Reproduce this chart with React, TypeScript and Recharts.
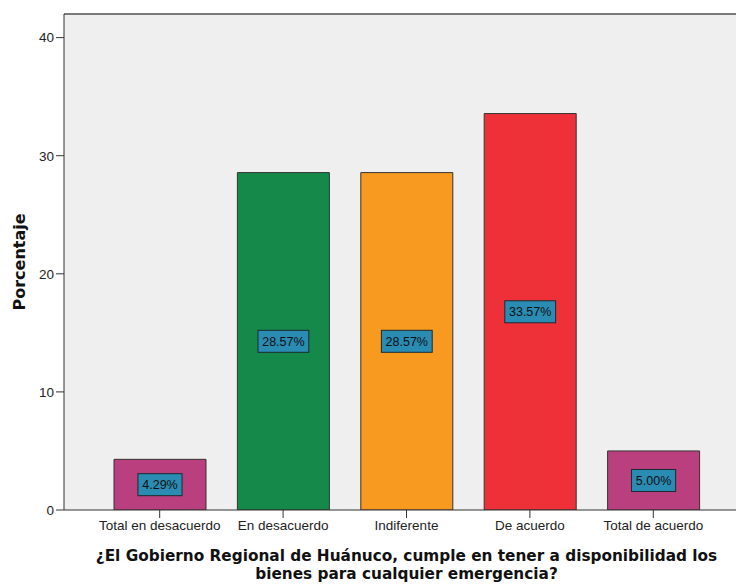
import { BarChart, Bar, XAxis, YAxis, CartesianGrid, LabelList, Cell, ReferenceLine, Label } from 'recharts';

const categories = ['Total en desacuerdo', 'En desacuerdo', 'Indiferente', 'De acuerdo', 'Total de acuerdo'];
const percentages = [4.29, 28.57, 28.57, 33.57, 5.0];
const barColors = ['#b93f7e', '#15894a', '#f89a1f', '#ee3139', '#b93f7e'];
const yTicks = [0, 10, 20, 30, 40];

const data = categories.map((name, i) => ({ name, value: percentages[i] }));

const FONT = 'Arial, "Liberation Sans", sans-serif';
const BOLD_FONT = '"DejaVu Sans", Verdana, sans-serif';

function boxWidth(s: string) {
  let w = 0;
  for (const c of s) {
    if (c === '.') w += 3.3;
    else if (c === '%') w += 10.7;
    else w += 6.7;
  }
  return w + 10;
}

function ValueBox(props: any) {
  const { x, y, width, height, value } = props;
  const text = `${Number(value).toFixed(2)}%`;
  const cx = x + width / 2;
  const cy = y + height / 2;
  const w = boxWidth(text);
  const h = 22;
  return (
    <g>
      <rect x={cx - w / 2} y={cy - h / 2} width={w} height={h} fill="#2a8bb3" stroke="#1c2a30" strokeWidth={1} />
      <text x={cx} y={cy + 4.5} textAnchor="middle" fontSize={12.5} fontFamily={FONT} fill="#111">
        {text}
      </text>
    </g>
  );
}

export default function App() {
  return (
    <div style={{ position: 'absolute', left: 0, top: 0, width: 736, height: 586, overflow: 'hidden', background: '#fff' }}>
      <BarChart
        width={760}
        height={586}
        data={data}
        margin={{ top: 14, right: 11, left: 0, bottom: 0 }}
      >
        <CartesianGrid horizontal={false} vertical={false} fill="#efefef" />
        <ReferenceLine y={42} stroke="#7a7a7a" strokeWidth={2} ifOverflow="extendDomain" />
        <XAxis
          dataKey="name"
          height={76}
          padding={{ left: 34, right: 34 }}
          tickSize={8}
          tickMargin={2}
          stroke="#333"
          tick={{ fontSize: 13.5, fontFamily: FONT, fill: '#222' }}
          interval={0}
        />
        <YAxis
          domain={[0, 42]}
          ticks={yTicks}
          width={64}
          tickSize={8}
          tickMargin={2}
          stroke="#333"
          allowDataOverflow
          tick={{ fontSize: 13.5, fontFamily: FONT, fill: '#222' }}
        >
          <Label
            value="Porcentaje"
            angle={-90}
            position="center"
            dx={-13}
            style={{ fontSize: 16, fontWeight: 'bold', fontFamily: BOLD_FONT, fill: '#111' }}
          />
        </YAxis>
        <Bar dataKey="value" barSize={92} stroke="#333" strokeWidth={1} isAnimationActive={false}>
          {data.map((d, i) => (
            <Cell key={d.name} fill={barColors[i]} />
          ))}
          <LabelList dataKey="value" content={ValueBox} />
        </Bar>
      </BarChart>
      <div
        style={{
          position: 'absolute',
          left: 64,
          width: 685,
          top: 547,
          textAlign: 'center',
          fontFamily: BOLD_FONT,
          fontWeight: 'bold',
          fontSize: 15.3,
          lineHeight: '18px',
          color: '#111',
          whiteSpace: 'nowrap',
        }}
      >
        ¿El Gobierno Regional de Huánuco, cumple en tener a disponibilidad los
        <br />
        bienes para cualquier emergencia?
      </div>
    </div>
  );
}
